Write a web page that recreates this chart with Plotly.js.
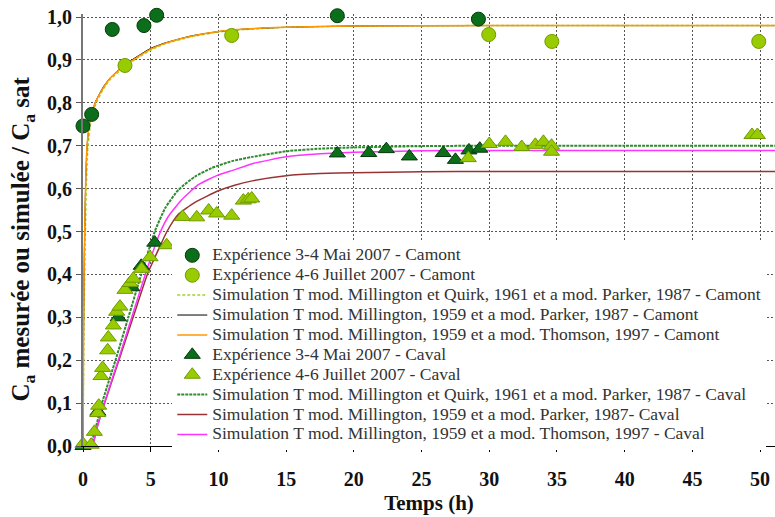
<!DOCTYPE html>
<html>
<head>
<meta charset="utf-8">
<script src="https://cdn.plot.ly/plotly-3.0.1.min.js"></script>
<style>html,body{margin:0;padding:0;background:#fff;}#chart{width:775px;height:517px;}</style>
</head>
<body>
<div id="chart"></div>
<script>
// ---- Measured data: Camont ----
const camontMaiX = [0, 0.64, 2.16, 4.5, 5.44, 18.78, 29.2];
const camontMaiY = [0.746, 0.773, 0.971, 0.98, 1.004, 1.003, 0.995];
const camontJuilX = [3.1, 10.98, 29.96, 34.62, 49.9];
const camontJuilY = [0.887, 0.957, 0.959, 0.943, 0.943];

// ---- Measured data: Caval ----
const cavalMaiX = [0, 1.1, 2.6, 3.6, 4.3, 5.3, 18.78, 21.1, 22.4, 24.1, 26.6, 27.5, 28.5, 29.3];
const cavalMaiY = [0, 0.08, 0.30, 0.37, 0.42, 0.474, 0.682, 0.683, 0.692, 0.675, 0.683, 0.667, 0.689, 0.693];
const cavalJuilX = [0, 0.6, 0.84, 1.09, 1.16, 1.33, 1.45, 1.82, 1.87, 2.24, 2.49, 2.73, 3.1, 3.47, 3.72, 4.33, 4.95, 6.18, 7.36, 8.4, 9.28, 9.87, 10.98, 11.84, 12.2, 12.46, 28.45, 30.0, 31.2, 32.4, 33.4, 34.0, 34.6, 34.6, 49.4, 49.8];
const cavalJuilY = [0.005, 0.003, 0.033, 0.077, 0.094, 0.163, 0.182, 0.223, 0.253, 0.281, 0.313, 0.325, 0.364, 0.38, 0.39, 0.413, 0.44, 0.468, 0.534, 0.533, 0.549, 0.542, 0.537, 0.572, 0.575, 0.577, 0.671, 0.704, 0.709, 0.697, 0.702, 0.709, 0.70, 0.686, 0.725, 0.725];

// ---- Simulated curves ----
const simCamMQPX = [0, 0.08, 0.15, 0.25, 0.35, 0.55, 0.95, 1.5, 2, 3, 4, 5, 6, 8, 10, 12, 15, 20, 30, 40, 51.1];
const simCamMQPY = [0, 0.3, 0.45, 0.61, 0.69, 0.75, 0.797, 0.832, 0.854, 0.882, 0.904, 0.923, 0.937, 0.954, 0.965, 0.971, 0.976, 0.979, 0.98, 0.98, 0.98];
const simCamMPX = [0, 0.05, 0.1, 0.2, 0.3, 0.5, 0.9, 1.5, 2, 3, 4, 5, 6, 8, 10, 12, 15, 20, 30, 40, 51.1];
const simCamMPY = [0, 0.3, 0.45, 0.62, 0.7, 0.756, 0.801, 0.837, 0.858, 0.887, 0.908, 0.927, 0.939, 0.956, 0.966, 0.972, 0.976, 0.979, 0.98, 0.98, 0.98];
const simCamMTX = [0, 0.05, 0.1, 0.2, 0.3, 0.5, 0.9, 1.5, 2, 3, 4, 5, 6, 8, 10, 12, 15, 20, 30, 40, 51.1];
const simCamMTY = [0, 0.3, 0.45, 0.62, 0.7, 0.755, 0.8, 0.835, 0.857, 0.885, 0.906, 0.925, 0.938, 0.955, 0.966, 0.972, 0.976, 0.979, 0.98, 0.98, 0.98];

const simCavMQPX = [0, 0.5, 1.0, 1.4, 2.4, 3.35, 4.3, 5.3, 6.06, 7.04, 8.27, 9.5, 11, 12.5, 15, 17.5, 20, 25, 30, 40, 51.1];
const simCavMQPY = [0, 0, 0.05, 0.1, 0.2, 0.3, 0.4, 0.5, 0.554, 0.597, 0.628, 0.648, 0.664, 0.674, 0.687, 0.693, 0.696, 0.699, 0.70, 0.70, 0.70];
const simCavMPX = [0, 0.65, 1.1, 1.6, 2.65, 3.7, 4.75, 5.6, 6.2, 7.04, 8.27, 10, 11.2, 12.5, 15, 17.5, 20, 25, 30, 40, 51.1];
const simCavMPY = [0, 0, 0.05, 0.1, 0.2, 0.3, 0.4, 0.46, 0.5, 0.54, 0.568, 0.595, 0.608, 0.618, 0.63, 0.635, 0.637, 0.639, 0.64, 0.64, 0.64];
const simCavMTX = [0, 0.65, 1.1, 1.57, 2.6, 3.6, 4.6, 5.67, 6.3, 7.29, 8.52, 10, 11.1, 12.5, 15, 17.5, 20, 25, 30, 40, 51.1];
const simCavMTY = [0, 0, 0.05, 0.1, 0.2, 0.3, 0.4, 0.496, 0.535, 0.574, 0.609, 0.632, 0.643, 0.658, 0.674, 0.681, 0.685, 0.688, 0.689, 0.689, 0.689];

const legendNames = [
  "Expérience 3-4 Mai 2007 - Camont",
  "Expérience 4-6 Juillet 2007 - Camont",
  "Simulation T mod. Millington et Quirk, 1961 et a mod. Parker, 1987 - Camont",
  "Simulation T mod. Millington, 1959 et a mod. Parker, 1987 - Camont",
  "Simulation T mod. Millington, 1959 et a mod. Thomson, 1997 - Camont",
  "Expérience 3-4 Mai 2007 - Caval",
  "Expérience 4-6 Juillet 2007 - Caval",
  "Simulation T mod. Millington et Quirk, 1961 et a mod. Parker, 1987 - Caval",
  "Simulation T mod. Millington, 1959 et a mod. Parker, 1987- Caval",
  "Simulation T mod. Millington, 1959 et a mod. Thomson, 1997 - Caval"
];

const LEG_FS = 17.5;
function nm(i) { return '<span style="font-family:Liberation Serif,serif;font-size:' + LEG_FS + 'px">' + legendNames[i] + '</span>'; }

const darkG = '#0b6e1a', darkGLine = '#063a0a';
const lightG = '#99cc00', lightGLine = '#6f9a00';

function lineTrace(x, y, i, color, width, dash) {
  return {x: x, y: y, name: nm(i), legendrank: i + 1, type: 'scatter', mode: 'lines',
    line: {color: color, width: width, dash: dash || 'solid', shape: 'spline', smoothing: 0.5},
    cliponaxis: false, hoverinfo: 'skip'};
}
function markTrace(x, y, i, symbol, fill, edge, size) {
  return {x: x, y: y, name: nm(i), legendrank: i + 1, type: 'scatter', mode: 'markers',
    marker: {symbol: symbol, size: size, color: fill, line: {color: edge, width: 1}},
    cliponaxis: false, hoverinfo: 'skip'};
}

const traces = [
  lineTrace(simCamMQPX, simCamMQPY, 2, '#a3d12e', 1.5, '3px,2px'),
  lineTrace(simCamMPX, simCamMPY, 3, '#000000', 1),
  lineTrace(simCamMTX, simCamMTY, 4, '#ff9900', 1.5),
  lineTrace(simCavMQPX, simCavMQPY, 7, '#2e8b2e', 2, '3px,1px'),
  lineTrace(simCavMPX, simCavMPY, 8, '#993333', 1.5),
  lineTrace(simCavMTX, simCavMTY, 9, '#ff33ff', 1.5),
  markTrace(camontMaiX, camontMaiY, 0, 'circle', darkG, darkGLine, 14),
  markTrace(camontJuilX, camontJuilY, 1, 'circle', lightG, lightGLine, 14),
  markTrace(cavalMaiX, cavalMaiY, 5, 'triangle-up', darkG, darkGLine, 14),
  markTrace(cavalJuilX, cavalJuilY, 6, 'triangle-up', lightG, lightGLine, 14)
];

const serif = 'Liberation Serif, Times New Roman, serif';

const layout = {
  width: 775, height: 517,
  margin: {l: 83, r: 0, t: 14, b: 71},
  paper_bgcolor: '#ffffff', plot_bgcolor: '#ffffff',
  separators: ', ',
  showlegend: true,
  legend: {
    x: 0.129, y: 0.476, xanchor: 'left', yanchor: 'top',
    bgcolor: '#ffffff', borderwidth: 0,
    font: {family: serif, size: 13, color: '#333333'},
    traceorder: 'normal', itemwidth: 30
  },
  xaxis: {
    range: [0, 51.1], tick0: 0, dtick: 5,
    showgrid: true, gridcolor: '#555555', gridwidth: 1, griddash: '2px,2px',
    showline: true, linecolor: '#000000', linewidth: 1,
    ticks: 'outside', ticklen: 5, tickcolor: '#000000',
    zeroline: false,
    tickfont: {family: serif, size: 20, color: '#111111', weight: 'bold'},
    ticklabelstandoff: 10,
    title: {text: 'Temps (h)', font: {family: serif, size: 21, color: '#111111', weight: 'bold'}, standoff: 6}
  },
  yaxis: {
    range: [0, 1.007], tickvals: [0, 0.1, 0.2, 0.3, 0.4, 0.5, 0.6, 0.7, 0.8, 0.9, 1.0], tickformat: '.1f',
    showgrid: true, gridcolor: '#555555', gridwidth: 1, griddash: '2px,2px',
    showline: true, linecolor: '#777777', linewidth: 2,
    ticks: 'outside', ticklen: 5, tickcolor: '#555555',
    zeroline: false,
    tickfont: {family: serif, size: 20, color: '#111111', weight: 'bold'},
    title: {text: 'C<sub>a</sub> mesurée ou simulée / C<sub>a</sub> sat&nbsp;&nbsp;&nbsp;', font: {family: serif, size: 25, color: '#111111', weight: 'bold'}, standoff: 10}
  }
};

Plotly.newPlot('chart', traces, layout, {displayModeBar: false, staticPlot: true});
</script>
</body>
</html>
